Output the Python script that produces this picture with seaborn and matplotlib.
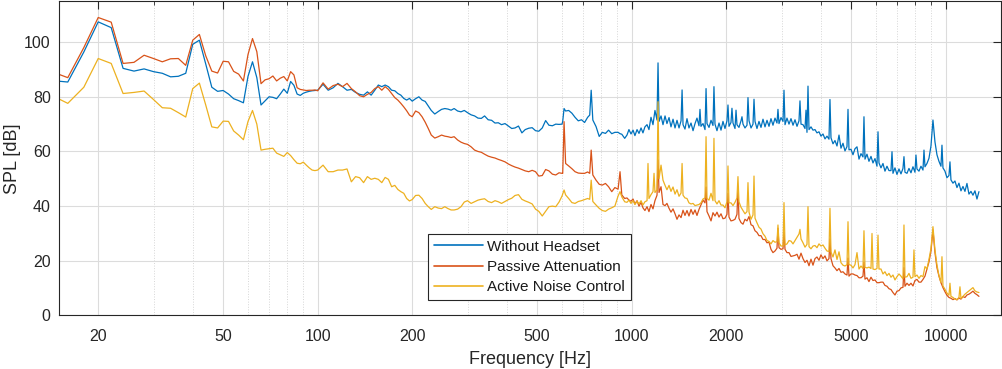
import pandas as pd
import seaborn as sns
import matplotlib.pyplot as plt
from matplotlib.lines import Line2D

# ---- data (frequency in Hz, SPL in dB) ----
# low band, 2 Hz resolution
freq_low = [15, 16, 18, 20, 22, 24, 26, 28, 30, 32, 34, 36, 38, 40, 42, 44, 46, 48, 50, 52,
            54, 56, 58, 60, 62, 64, 66, 68, 70, 72, 74, 76, 78, 80, 82, 84, 86, 88, 90, 92,
            94, 96, 98]
blue_low = [85.7, 85.4, 96.4, 107.4, 105.3, 90.4, 89.4, 90.2, 89.2, 88.6, 87.3, 87.5, 88.6, 99.2,
            100.7, 92.0, 83.5, 82.0, 82.3, 81.0, 79.3, 78.6, 77.8, 87.5, 92.8, 87.0, 77.0, 78.5,
            80.0, 79.8, 79.3, 81.0, 82.8, 81.3, 85.6, 84.2, 81.0, 80.5, 81.3, 81.7, 82.0, 82.2, 82.3]
orange_low = [88.2, 87.0, 98.0, 109.0, 107.3, 92.2, 92.6, 95.2, 94.0, 92.8, 93.9, 94.0, 91.5, 100.7,
              102.8, 95.0, 89.4, 88.7, 93.0, 92.8, 89.3, 88.3, 85.8, 95.5, 101.3, 96.5, 84.8, 86.2,
              86.6, 87.6, 85.8, 86.8, 87.4, 85.8, 89.2, 88.0, 83.3, 82.7, 82.5, 82.3, 82.4, 82.4, 82.5]
yellow_low = [79.2, 77.6, 83.5, 94.0, 92.2, 81.2, 81.6, 82.1, 79.0, 76.0, 75.8, 74.2, 72.6, 83.0,
              85.0, 77.0, 69.0, 68.6, 71.1, 71.0, 67.5, 66.0, 64.3, 71.0, 75.0, 70.0, 60.5, 60.8,
              61.0, 61.2, 59.4, 58.8, 58.2, 59.6, 58.5, 57.0, 55.7, 55.5, 56.1, 55.0, 54.0, 53.2, 53.0]

# mid band, 100 Hz .. 950 Hz
freq_mid = [100, 104, 108, 112, 116, 120, 124, 128, 132, 136, 140, 144, 148, 152, 156, 160, 164,
            168, 172, 176, 180, 184, 188, 192, 196, 200,
            205, 210, 215, 220, 225, 230, 236, 242, 248, 254, 260, 266,
            272, 279, 286, 293, 300, 308, 316, 324, 332, 340, 349, 358, 367, 376, 385, 395, 405,
            415, 425, 436, 447, 458, 470, 482, 494, 506, 519, 532, 545, 559, 573, 587, 600, 603,
            609, 616, 630, 645, 660, 676, 692, 708, 724, 735, 743, 752, 770, 788, 806, 825, 844,
            864, 884, 905, 918, 930, 950]
blue_mid = [82.4, 84.6, 82.4, 83.3, 84.9, 83.7, 82.4, 82.7, 81.6, 80.9, 80.6, 81.8, 80.6, 82.4,
            84.3, 83.7, 84.3, 83.7, 82.4, 82.2, 81.2, 80.6, 79.4, 78.8, 79.4, 78.4,
            79.3, 80.0, 78.8, 78.3, 76.6, 75.0, 73.7, 74.6, 75.4, 75.7, 75.5, 75.1,
            75.7, 74.8, 74.5, 75.0, 74.2, 73.4, 73.0, 72.2, 72.1, 73.0, 71.6, 71.4, 70.4, 70.5,
            69.8, 70.2, 69.3, 68.4, 68.6, 69.3, 66.8, 68.0, 68.5, 68.7, 67.6, 67.4, 68.6, 71.3,
            69.6, 69.4, 70.0, 69.9, 70.0, 71.0, 75.7, 74.8, 75.0, 74.0, 72.5, 71.2, 71.6, 70.6,
            72.5, 73.3, 82.4, 71.5, 69.1, 65.5, 67.0, 66.6, 67.8, 66.5, 67.0, 67.0, 66.5, 66.3, 64.8]
orange_mid = [82.2, 85.1, 82.8, 84.1, 84.6, 83.7, 84.9, 83.0, 81.8, 80.4, 80.0, 80.9, 81.6, 83.0,
              83.7, 82.4, 83.7, 82.7, 81.2, 79.7, 78.8, 77.6, 76.3, 74.9, 73.3, 72.7,
              74.8, 74.2, 72.7, 70.7, 68.4, 66.0, 64.9, 65.4, 66.0, 65.6, 65.4, 65.1,
              65.4, 64.2, 63.4, 62.9, 62.6, 61.7, 60.5, 60.0, 59.7, 59.0, 58.3, 57.9, 57.6, 57.1,
              56.7, 56.2, 55.4, 54.8, 54.3, 53.9, 53.4, 52.9, 52.6, 53.1, 52.6, 51.0, 51.2, 53.4,
              52.9, 51.7, 51.4, 52.2, 52.0, 52.0, 70.9, 55.6, 54.7, 53.7, 52.6, 52.1, 52.0, 52.0,
              52.5, 52.0, 60.5, 51.4, 49.5, 48.0, 47.7, 48.3, 47.1, 45.3, 46.8, 46.2, 52.6, 44.1, 42.8]
yellow_mid = [53.2, 55.0, 52.6, 52.6, 53.2, 53.2, 53.6, 48.9, 50.8, 50.4, 48.6, 50.8, 49.8, 50.2,
              49.8, 48.6, 50.5, 49.8, 47.1, 47.6, 46.1, 45.3, 44.7, 42.8, 41.9, 42.4,
              43.9, 44.0, 42.8, 41.0, 39.8, 38.8, 39.8, 39.3, 39.1, 39.8, 39.1, 38.6,
              38.6, 38.9, 39.8, 41.5, 42.0, 41.0, 41.6, 42.2, 42.5, 42.7, 41.7, 41.3, 42.0, 41.6,
              41.0, 41.7, 42.4, 42.9, 43.9, 44.2, 42.5, 41.9, 41.4, 40.8, 38.9, 38.1, 36.4, 38.1,
              39.8, 40.0, 39.8, 41.5, 43.7, 44.4, 45.9, 44.1, 42.8, 41.3, 41.0, 41.7, 42.0, 42.4,
              42.8, 42.5, 49.5, 41.7, 40.4, 39.2, 38.4, 38.1, 38.9, 39.4, 40.0, 43.7, 45.3, 43.4, 41.6]

# high band, broadband floor (tonal spikes are listed separately below)
freq_high = [966, 980, 995, 1010, 1024, 1040, 1055, 1071, 1086, 1102,
             1119, 1135, 1152, 1169, 1186, 1204, 1222, 1240, 1258, 1277,
             1295, 1315, 1334, 1354, 1374, 1394, 1415, 1436, 1457, 1478,
             1500, 1522, 1545, 1568, 1591, 1614, 1638, 1662, 1687, 1712,
             1737, 1763, 1789, 1815, 1842, 1869, 1897, 1925, 1953, 1982,
             2011, 2041, 2071, 2102, 2133, 2164, 2196, 2229, 2262, 2295,
             2329, 2364, 2399, 2434, 2470, 2506, 2543, 2581, 2619, 2658,
             2697, 2737, 2777, 2818, 2860, 2902, 2945, 2989, 3033, 3078,
             3123, 3169, 3216, 3264, 3312, 3361, 3410, 3461, 3512, 3564,
             3616, 3670, 3724, 3779, 3835, 3891, 3949, 4007, 4066, 4127,
             4187, 4249, 4312, 4376, 4440, 4506, 4573, 4640, 4709, 4778,
             4849, 4920, 4993, 5067, 5142, 5218, 5295, 5373, 5452, 5533,
             5614, 5697, 5782, 5867, 5954, 6042, 6131, 6221, 6313, 6406,
             6501, 6597, 6695, 6793, 6894, 6996, 7099, 7204, 7310, 7418,
             7528, 7639, 7752, 7866, 7982, 8100, 8220, 8341, 8465, 8590,
             8716, 8845, 8976, 9108, 9243, 9379, 9518, 9659, 9801, 9946,
             10093, 10242, 10393, 10547, 10703, 10861, 11021, 11184, 11349, 11517,
             11687, 11859, 12035, 12212, 12393, 12576, 12761]
blue_high = [66.0, 68.0, 66.4, 67.8, 65.8, 68.0, 66.6, 68.6, 66.8, 69.0,
             69.8, 68.0, 72.5, 69.8, 75.0, 71.5, 71.0, 73.0, 69.8, 73.0,
             70.2, 72.4, 69.0, 71.8, 68.6, 71.4, 68.6, 71.2, 69.8, 68.2,
             72.0, 68.6, 70.4, 67.6, 70.2, 72.2, 69.4, 69.2, 70.2, 68.0,
             70.2, 68.8, 71.4, 69.5, 70.0, 67.6, 70.4, 67.8, 71.0, 68.4,
             71.2, 69.2, 70.6, 70.4, 68.4, 69.8, 68.8, 71.2, 70.0, 68.6,
             69.6, 71.2, 68.6, 70.0, 71.0, 68.4, 71.0, 68.8, 71.8, 69.0,
             71.4, 69.2, 72.0, 69.6, 72.2, 70.4, 70.2, 72.4, 71.0, 69.8,
             72.2, 70.0, 72.0, 69.6, 71.6, 69.2, 71.2, 70.0, 69.8, 68.4,
             67.0, 68.0, 69.0, 67.8, 68.0, 66.8, 67.2, 65.6, 66.4, 64.6,
             65.6, 64.5, 65.0, 62.8, 64.0, 62.0, 66.0, 61.2, 63.0, 60.2,
             61.8, 60.6, 60.8, 58.8, 61.0, 61.7, 57.2, 59.2, 58.0, 57.2,
             59.0, 56.4, 58.2, 55.8, 57.4, 54.6, 55.8, 54.0, 55.6, 52.8,
             54.6, 53.0, 53.0, 52.0, 54.0, 51.6, 53.6, 51.8, 53.8, 52.4,
             52.0, 53.8, 52.2, 54.4, 52.4, 53.6, 52.8, 54.6, 53.2, 54.4,
             55.6, 57.5, 62.0, 71.5, 63.5, 58.8, 56.4, 54.6, 54.0, 52.8,
             50.4, 51.2, 49.6, 48.4, 49.2, 46.8, 48.4, 45.6, 47.2, 45.4,
             48.3, 44.4, 45.4, 44.0, 45.6, 42.6, 45.3]
orange_high = [43.0, 42.2, 41.8, 42.6, 40.8, 42.0, 40.0, 41.4, 39.4, 38.4,
               39.8, 38.0, 40.6, 39.0, 42.0, 44.0, 45.0, 47.1, 40.6, 40.2,
               41.0, 39.2, 37.8, 39.0, 37.2, 35.2, 36.8, 35.8, 38.5, 36.6,
               38.4, 36.4, 38.8, 37.0, 38.6, 36.6, 38.8, 40.5, 42.2, 41.2,
               38.0, 36.4, 34.6, 37.6, 36.4, 37.8, 36.0, 37.2, 35.4, 35.6,
               37.0, 36.0, 34.6, 34.8, 35.2, 37.0, 35.5, 34.0, 33.4, 35.2,
               34.6, 36.2, 33.2, 32.8, 31.0, 30.4, 29.2, 29.2, 27.8, 27.8,
               26.6, 26.8, 24.2, 23.0, 23.6, 24.6, 24.8, 24.2, 24.4, 24.2,
               23.0, 23.0, 21.6, 21.8, 22.0, 22.4, 20.6, 22.8, 20.8, 19.4,
               20.2, 18.2, 20.6, 18.4, 20.8, 21.4, 20.2, 22.2, 20.8, 21.8,
               20.0, 20.8, 20.8, 18.2, 17.4, 16.4, 17.2, 15.8, 16.0, 15.2,
               14.8, 14.4, 15.2, 15.2, 14.8, 14.6, 13.8, 13.8, 14.4, 13.3,
               13.8, 12.4, 14.0, 12.8, 13.0, 12.0, 12.0, 12.2, 12.2, 11.0,
               10.7, 9.8, 9.5, 8.4, 7.5, 8.9, 9.1, 10.1, 10.3, 10.7,
               11.8, 11.0, 11.8, 10.8, 12.8, 13.2, 12.2, 12.2, 13.2, 14.4,
               17.0, 19.6, 23.5, 31.3, 23.0, 17.5, 14.4, 12.0, 10.2, 8.7,
               7.4, 6.6, 6.3, 5.8, 6.2, 5.7, 6.4, 6.0, 6.9, 6.6,
               7.5, 7.8, 8.3, 8.9, 8.1, 7.6, 7.0]
yellow_high = [41.4, 42.2, 41.0, 42.0, 40.6, 41.8, 40.8, 42.0, 40.4, 41.6,
               42.0, 42.8, 44.2, 45.3, 45.0, 45.9, 50.0, 55.0, 49.5, 47.6,
               46.0, 47.6, 45.4, 47.0, 44.4, 46.0, 43.6, 44.8, 44.0, 43.0,
               42.8, 41.2, 40.8, 41.0, 40.2, 40.4, 40.6, 41.2, 42.6, 43.0,
               42.8, 42.2, 44.7, 42.0, 42.0, 40.8, 42.0, 40.4, 40.4, 39.4,
               41.6, 41.2, 41.2, 40.2, 41.4, 43.0, 41.6, 39.6, 38.4, 37.2,
               38.0, 37.8, 35.2, 36.8, 35.6, 33.9, 32.3, 31.6, 29.9, 29.0,
               27.4, 27.1, 26.2, 27.4, 26.8, 27.0, 26.6, 25.4, 25.4, 25.8,
               26.2, 27.4, 27.2, 26.2, 27.4, 28.6, 29.8, 28.0, 26.6, 25.0,
               26.0, 25.2, 24.4, 25.4, 25.6, 24.8, 26.2, 25.4, 25.8, 24.6,
               23.6, 23.4, 23.2, 21.4, 24.0, 20.5, 23.3, 19.3, 18.4, 18.1,
               18.6, 18.6, 18.4, 17.4, 18.6, 23.0, 17.0, 18.1, 17.2, 17.6,
               17.4, 17.7, 17.2, 17.0, 16.8, 17.2, 17.0, 17.0, 15.2, 16.0,
               14.6, 15.4, 14.0, 14.8, 13.0, 14.2, 15.2, 14.4, 13.4, 14.0,
               14.2, 15.4, 13.6, 14.0, 14.2, 14.8, 13.6, 14.6, 14.2, 17.9,
               17.0, 20.5, 24.5, 32.5, 24.0, 18.5, 14.6, 12.0, 10.8, 9.6,
               8.2, 7.4, 7.0, 6.6, 6.0, 5.8, 6.6, 6.2, 7.0, 7.8,
               8.4, 9.0, 9.6, 10.2, 9.0, 8.6, 8.4]

# tonal spikes (frequency, peak level)
blue_spike_f = [1213, 1447, 1650, 1725, 1828, 2026, 2086, 2149, 2245, 2346, 2452, 2923, 3055,
                3435, 3590, 3643, 4280, 4885, 5492, 6087, 6745, 7364, 8041, 8528, 9730, 10318]
blue_spike_db = [92.4, 82.5, 75.4, 83.0, 83.7, 77.0, 75.8, 75.1, 72.7, 79.7, 79.1, 75.4, 82.4,
                 78.5, 75.1, 83.9, 79.0, 75.4, 72.7, 67.2, 59.9, 58.1, 58.7, 60.5, 62.3, 56.2]
orange_spike_f = [1213, 1725, 2026, 2180, 2923, 3055, 4280, 4885, 5492, 7364]
orange_spike_db = [56.9, 47.0, 44.7, 47.1, 31.9, 30.5, 28.0, 21.0, 19.5, 17.5]
yellow_spike_f = [1127, 1178, 1213, 1447, 1725, 1828, 2026, 2180, 2346, 2452, 2923, 3055, 3435,
                  3643, 4280, 4885, 5492, 5825, 6087, 7364, 7924, 9730, 10318, 11103]
yellow_spike_db = [55.6, 52.0, 78.2, 55.6, 65.4, 64.8, 54.7, 50.8, 48.6, 51.0, 33.1, 41.3, 31.5,
                   39.8, 39.2, 34.3, 31.0, 30.0, 29.4, 33.1, 24.0, 21.5, 11.8, 10.5]

labels = ['Without Headset', 'Passive Attenuation', 'Active Noise Control']
colors = ['#0072BD', '#D95319', '#EDB120']
x_ticks = [20, 50, 100, 200, 500, 1000, 2000, 5000, 10000]
y_ticks = [0, 20, 40, 60, 80, 100]

freq = freq_low + freq_mid + freq_high
series = [
    (blue_low + blue_mid + blue_high, blue_spike_f, blue_spike_db),
    (orange_low + orange_mid + orange_high, orange_spike_f, orange_spike_db),
    (yellow_low + yellow_mid + yellow_high, yellow_spike_f, yellow_spike_db),
]

sns.set_theme(style='white')
plt.rcParams['font.family'] = ['Liberation Sans', 'DejaVu Sans']

fig = plt.figure(figsize=(10.03, 3.69), dpi=100)
ax = fig.add_axes([0.0588, 0.145, 0.9392, 0.852])
ax.set_xscale('log')

for name, (vals, sf, sdb), col in zip(labels, series, colors):
    df = pd.concat([pd.DataFrame({'Frequency': freq, 'SPL': vals}),
                    pd.DataFrame({'Frequency': sf, 'SPL': sdb})])
    df = df.sort_values('Frequency')
    sns.lineplot(data=df, x='Frequency', y='SPL', color=col, linewidth=0.9,
                 estimator=None, errorbar=None, legend=False, ax=ax)

ax.set_xlim(15, 15000)
ax.set_ylim(0, 115)

# ticks like matlab: labelled majors + all log minors
minor = [k * 10 ** n for n in range(1, 5) for k in range(2, 10)
         if 15 <= k * 10 ** n <= 15000 and k * 10 ** n not in x_ticks]
ax.set_xticks(x_ticks, labels=[str(t) for t in x_ticks])
ax.set_xticks(minor, minor=True)
ax.xaxis.set_minor_formatter(plt.NullFormatter())
ax.set_yticks(y_ticks)

ax.grid(True, which='major', color='#dcdcdc', linewidth=0.8)
ax.grid(True, which='minor', axis='x', color='#d6d6d6', linewidth=0.7, linestyle=':')
ax.set_axisbelow(True)

ax.tick_params(which='both', direction='in', top=True, right=True, color='#262626',
               labelcolor='#262626', labelsize=11.5)
ax.tick_params(which='major', length=5.5, width=0.8)
ax.tick_params(which='minor', length=3, width=0.6)
ax.tick_params(axis='x', pad=10)
ax.tick_params(axis='y', pad=6)
for sp in ax.spines.values():
    sp.set_color('#262626')
    sp.set_linewidth(0.8)

ax.set_xlabel('Frequency [Hz]', fontsize=13, color='#262626', labelpad=5)
ax.set_ylabel('SPL [dB]', fontsize=13, color='#262626', labelpad=2)

handles = [Line2D([], [], color=c, linewidth=1.2) for c in colors]
leg = ax.legend(handles, labels, loc='lower left', bbox_to_anchor=(0.392, 0.049),
                fontsize=11, handlelength=3.2, handletextpad=0.25, borderpad=0.4,
                labelspacing=0.4, borderaxespad=0, fancybox=False,
                edgecolor='#262626', framealpha=1)
leg.get_frame().set_linewidth(0.8)
for t in leg.get_texts():
    t.set_color('#1a1a1a')

fig.savefig('out.png', dpi=100)
